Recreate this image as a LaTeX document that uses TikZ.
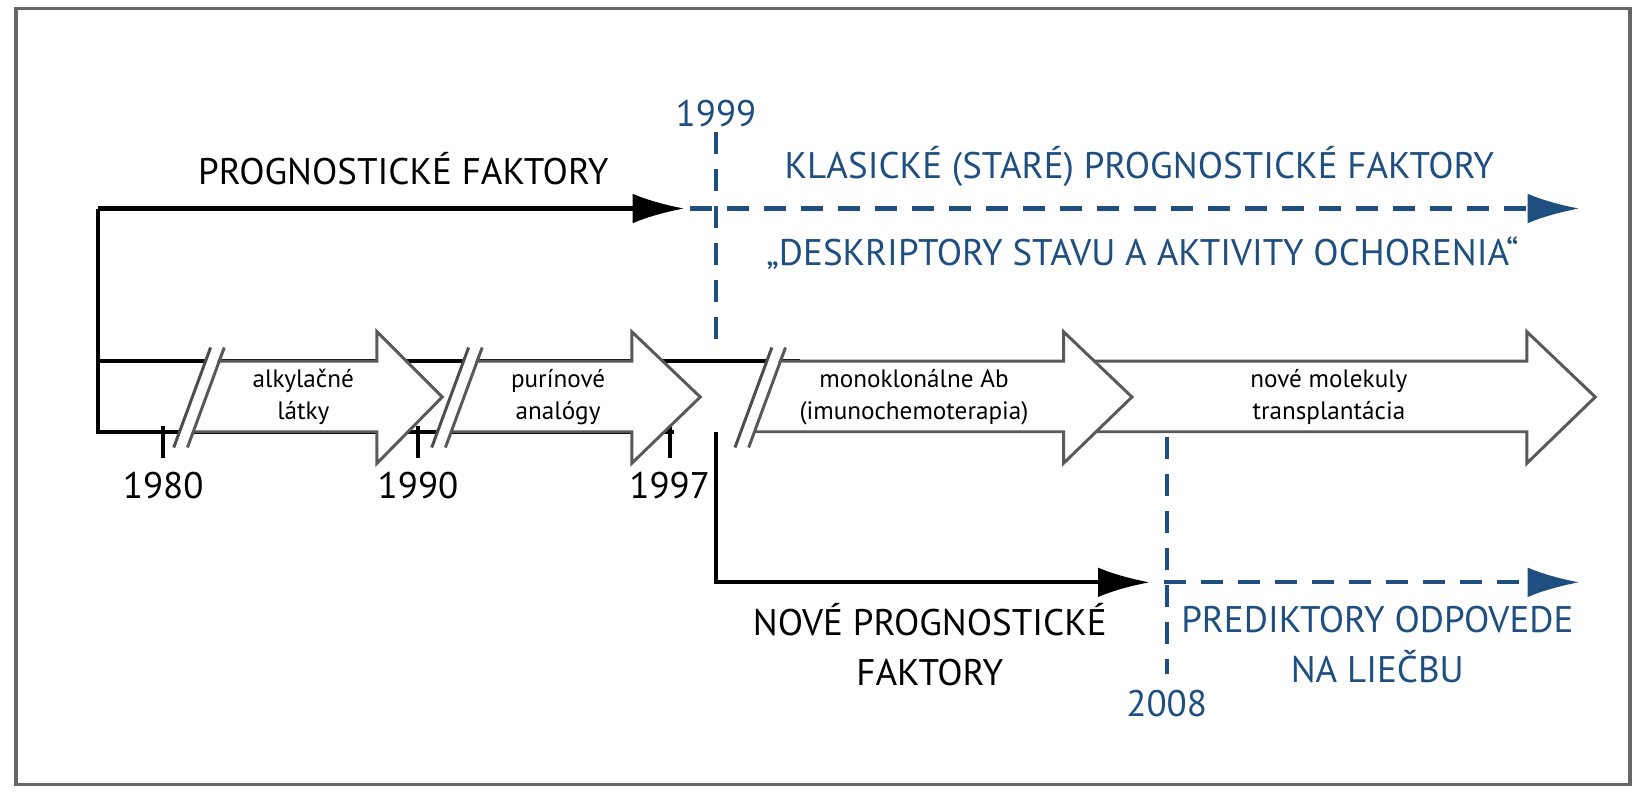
\documentclass[tikz,border=0pt]{standalone}
\usepackage{fontspec}
\setmainfont{PT Sans}
\usepackage{xcolor}
\usetikzlibrary{arrows.meta}
\definecolor{tlblue}{RGB}{31,78,128}
\tikzset{
  blk/.style={line width=1.1pt},
  blue dash/.style={tlblue,line width=1.1pt,dash pattern=on 6pt off 4pt},
  big/.style={font=\fontsize{10}{13.5}\selectfont,align=center},
  small/.style={font=\fontsize{6.8}{8.5}\selectfont,align=center},
  band/.style={fill=white,draw=black!65,line width=0.8pt,line join=miter},
}
\begin{document}
\begin{tikzpicture}[x=0.1mm,y=-0.1mm]
                \draw[black!60,line width=1pt] (15,8) rectangle (1548,745);

                % black lines of the band
                \coordinate (s0) at (93,410);
                \coordinate (t0) at (93,198);
                \coordinate (p0) at (650,198);
                \draw[blk] (t0) -- (s0) -- (640,410);
                \draw[blk] (93,343) -- (760,343);

                % ticks
                \draw[blk] (155,405) -- (155,435) node[big,below=0pt] (y80) {1980};
                \draw[blk] (397,405) -- (397,435) node[big,below=0pt] (y90) {1990};
                \draw[blk] (636,405) -- (636,435) node[big,below=0pt] (y97) {1997};

                % arrows of the band
                \draw[band] (1040,410) -- (1040,343) -- (1450,343) -- (1450,315) -- (1515,377) -- (1450,440) -- (1450,410) -- cycle;
                \foreach \s/\hb/\tip in {698/1010/1075, 410/600/665, 165/358/420} {
                  \fill[white] (\s,425) -- (\s+35,330) -- (\s+48,330) -- (\s+13,425) -- cycle;
                  \draw[black!70,line width=0.8pt] (\s,425) -- (\s+35,330);
                  \fill[white] (\s+19,410) -- (\s+43,343) -- (\hb,343) -- (\hb,410) -- cycle;
                  \draw[band] (\s+13,425) -- (\s+48,330) -- (\s+43,343) -- (\hb,343) -- (\hb,315) -- (\tip,377) -- (\hb,440) -- (\hb,410) -- (\s+19,410);
                }

                \node[small] (alk) at (288,377) {alkylačné\\látky};
                \node[small] (pur) at (530,377) {purínové\\analógy};
                \node[small] (mab) at (868,377) {monoklonálne Ab\\(imunochemoterapia)};
                \node[small] (mol) at (1262,377) {nové molekuly\\transplantácia};

                % upper branch
                \coordinate (q0) at (1500,198);
                \draw[blk,-{Latex[length=14pt,width=8pt]}] (t0) -- (p0);
                \draw[blue dash,-{Latex[length=14pt,width=8pt]}] (655,198) -- (q0);
                \node[big,tlblue] (y99) at (680,108) {1999};
                \draw[blue dash] (680,125) -- (680,335);
                \node[big] (pf) at (383,160) {PROGNOSTICKÉ FAKTORY};
                \node[big,tlblue] (kpf) at (1082,158) {KLASICKÉ (STARÉ) PROGNOSTICKÉ FAKTORY};
                \node[big,tlblue] (des) at (1085,240) {„DESKRIPTORY STAVU A AKTIVITY OCHORENIA“};

                % lower branch
                \coordinate (n0) at (680,410);
                \coordinate (n1) at (680,553);
                \coordinate (n2) at (1092,553);
                \coordinate (n3) at (1500,553);
                \draw[blk,-{Latex[length=14pt,width=8pt]}] (n0) -- (n1) -- (n2);
                \draw[blue dash,-{Latex[length=14pt,width=8pt]}] (1105,553) -- (n3);
                \node[big,tlblue] (y08) at (1108,668) {2008};
                \draw[blue dash] (1108,415) -- (1108,640);
                \node[big] (npf) at (883,612) {NOVÉ PROGNOSTICKÉ\\FAKTORY};
                \node[big,tlblue] (pod) at (1308,612) {PREDIKTORY ODPOVEDE\\NA LIEČBU};

                \pgfresetboundingbox
                \useasboundingbox (0,0) rectangle (1567,760);
\end{tikzpicture}
\end{document}
